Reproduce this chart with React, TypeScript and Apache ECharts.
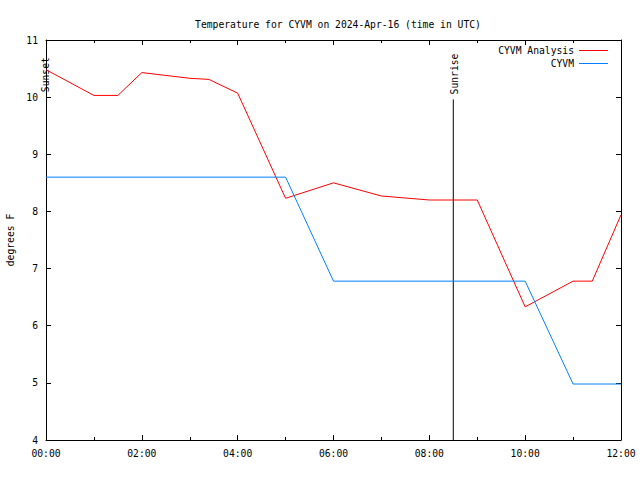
import React, { useEffect, useRef } from "react";
import * as echarts from "echarts";

const titleText = "Temperature for CYVM on 2024-Apr-16 (time in UTC)";
const yAxisName = "degrees F";
const analysisName = "CYVM Analysis";
const obsName = "CYVM";

// hours after 00:00 UTC
const analysisHours = [0, 1, 1.5, 2, 3, 3.4, 4, 5, 6, 7, 8, 9, 10, 11, 11.4, 12];
const analysisTemps = [10.48, 10.03, 10.03, 10.43, 10.33, 10.31, 10.07, 8.23, 8.5, 8.27, 8.2, 8.2, 6.33, 6.78, 6.78, 7.94];

const obsHours = [0, 5, 6, 10, 11, 12];
const obsTemps = [8.6, 8.6, 6.78, 6.78, 4.98, 4.98];

const sunsetHour = -0.04;
const sunriseHour = 8.5;
const sunsetTop = 10.0;
const sunriseTop = 9.96;

const xMin = 0;
const xMax = 12;
const xInterval = 2;
const yMin = 4;
const yMax = 11;
const yInterval = 1;

const FONT = "DejaVu Sans Mono";
const FS = 9.7;

function fmtHour(v: number): string {
  const h = Math.round(v);
  return String(h).padStart(2, "0") + ":00";
}

export default function App() {
  const ref = useRef<HTMLDivElement>(null);
  useEffect(() => {
    if (!ref.current) return;
    const chart = echarts.init(ref.current, null, { renderer: "svg" });
    const axisLine = { show: true, onZero: false, lineStyle: { color: "#000", width: 1 } };
    const tick = { show: true, inside: true, length: 5, lineStyle: { color: "#000", width: 1 } };
    const minor = { show: true, splitNumber: 2, length: 3, lineStyle: { color: "#000", width: 1 } };
    const option: any = {
      animation: false,
      backgroundColor: "#fff",
      textStyle: { fontFamily: FONT, fontSize: FS, color: "#000" },
      title: {
        text: titleText,
        left: 333,
        textAlign: "center",
        top: 14,
        textStyle: { fontFamily: FONT, fontSize: FS, fontWeight: "normal", color: "#000" },
      },
      legend: {
        orient: "vertical",
        right: 27,
        top: 39,
        align: "right",
        itemGap: 0,
        itemWidth: 29,
        itemHeight: 1,
        icon: "rect",
        textStyle: { fontFamily: FONT, fontSize: FS, color: "#000", lineHeight: 13 },
        data: [analysisName, obsName],
      },
      grid: {
        left: 46,
        right: 19,
        top: 40,
        bottom: 40,
        containLabel: false,
        outerBoundsMode: "none",
      },
      xAxis: [
        {
          type: "value",
          min: xMin,
          max: xMax,
          interval: xInterval,
          axisLine,
          axisTick: tick,
          minorTick: minor,
          splitLine: { show: false },
          minorSplitLine: { show: false },
          axisLabel: {
            formatter: (v: number) => fmtHour(v),
            color: "#000",
            fontFamily: FONT,
            fontSize: FS,
            margin: 8,
          },
        },
        {
          type: "value",
          position: "top",
          min: xMin,
          max: xMax,
          interval: xInterval,
          axisLine,
          axisTick: tick,
          minorTick: minor,
          splitLine: { show: false },
          axisLabel: { show: false },
        },
      ],
      yAxis: [
        {
          type: "value",
          min: yMin,
          max: yMax,
          interval: yInterval,
          name: yAxisName,
          nameLocation: "middle",
          nameRotate: 90,
          nameGap: 31,
          nameTextStyle: { fontFamily: FONT, fontSize: FS, color: "#000" },
          axisLine,
          axisTick: tick,
          splitLine: { show: false },
          axisLabel: { color: "#000", fontFamily: FONT, fontSize: FS, margin: 8 },
        },
        {
          type: "value",
          position: "right",
          min: yMin,
          max: yMax,
          interval: yInterval,
          axisLine,
          axisTick: tick,
          splitLine: { show: false },
          axisLabel: { show: false },
        },
      ],
      series: [
        {
          name: "sunset",
          type: "line",
          data: [
            [sunsetHour, yMin],
            [sunsetHour, sunsetTop],
          ],
          clip: false,
          showSymbol: false,
          symbol: "none",
          silent: true,
          lineStyle: { color: "#000", width: 1 },
        },
        {
          name: "sunrise",
          type: "line",
          data: [
            [sunriseHour, yMin],
            [sunriseHour, sunriseTop],
          ],
          showSymbol: false,
          symbol: "none",
          silent: true,
          lineStyle: { color: "#000", width: 1 },
        },
        {
          name: analysisName,
          type: "line",
          data: analysisHours.map((h, i) => [h, analysisTemps[i]]),
          showSymbol: false,
          symbol: "none",
          color: "#ff0000",
          lineStyle: { color: "#ff0000", width: 1 },
        },
        {
          name: obsName,
          type: "line",
          data: obsHours.map((h, i) => [h, obsTemps[i]]),
          showSymbol: false,
          symbol: "none",
          color: "#0080ff",
          lineStyle: { color: "#0080ff", width: 1 },
        },
      ],
    };
    chart.setOption(option);

    const ssPt = chart.convertToPixel({ gridIndex: 0 }, [sunsetHour, sunsetTop]) as number[];
    const srPt = chart.convertToPixel({ gridIndex: 0 }, [sunriseHour, sunriseTop]) as number[];
    const mk = (txt: string, p: number[]) => ({
      type: "text",
      x: p[0] + 1,
      y: p[1] - 5,
      rotation: Math.PI / 2,
      style: {
        text: txt,
        fontFamily: FONT,
        fontSize: FS,
        fill: "#000",
        textAlign: "left",
        verticalAlign: "middle",
      },
    });
    chart.setOption({ graphic: [mk("Sunset", ssPt), mk("Sunrise", srPt)] });

    return () => chart.dispose();
  }, []);
  return (
    <div
      ref={ref}
      style={{ position: "absolute", left: 0, top: 0, width: 640, height: 480 }}
    />
  );
}
